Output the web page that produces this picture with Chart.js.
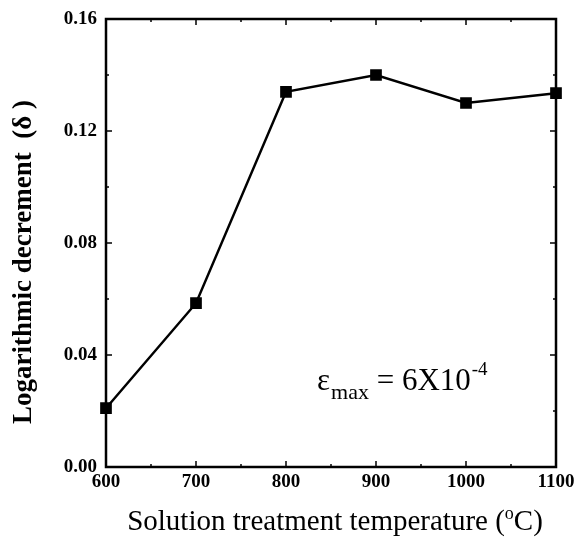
<!DOCTYPE html>
<html><head><meta charset="utf-8">
<script src="https://cdn.jsdelivr.net/npm/chart.js@4/dist/chart.umd.min.js"></script>
<style>html,body{margin:0;padding:0;background:#fff}#wrap{width:576px;height:541px}</style>
</head><body><div id="wrap"><canvas id="c" width="576" height="541"></canvas></div>
<script>
const temperatures = [600, 700, 800, 900, 1000, 1100];
const decrement = [0.021, 0.0585, 0.134, 0.140, 0.130, 0.1335];
const xTicks = [600, 700, 800, 900, 1000, 1100];
const yTicks = [0.00, 0.04, 0.08, 0.12, 0.16];

const serif = '"Liberation Serif", "Times New Roman", serif';

const frame = {
  id: 'frame',
  afterDraw(chart) {
    const {ctx, chartArea: a, scales: {x, y}} = chart;
    ctx.save();
    ctx.strokeStyle = '#000';
    ctx.lineWidth = 2.5;
    ctx.strokeRect(a.left, a.top, a.right - a.left, a.bottom - a.top);
    ctx.lineWidth = 1.5;
    ctx.beginPath();
    for (let v = 600; v <= 1100; v += 50) {
      const px = x.getPixelForValue(v);
      const len = (v % 100 === 0) ? 6 : 3;
      ctx.moveTo(px, a.bottom); ctx.lineTo(px, a.bottom - len);
      ctx.moveTo(px, a.top); ctx.lineTo(px, a.top + len);
    }
    for (let i = 0; i <= 8; i++) {
      const v = i * 0.02;
      const py = y.getPixelForValue(v);
      const len = (i % 2 === 0) ? 6 : 3;
      ctx.moveTo(a.left, py); ctx.lineTo(a.left + len, py);
      ctx.moveTo(a.right, py); ctx.lineTo(a.right - len, py);
    }
    ctx.stroke();

    // axis titles
    ctx.fillStyle = '#000';
    ctx.textAlign = 'center';
    ctx.textBaseline = 'middle';
    ctx.save();
    ctx.translate(24, 262);
    ctx.rotate(-Math.PI / 2);
    ctx.font = 'bold 27px ' + serif;
    ctx.fillText('Logarithmic decrement  (\u03B4 )', 0, 0);
    ctx.restore();

    ctx.textBaseline = 'alphabetic';
    ctx.textAlign = 'left';
    const p1 = 'Solution treatment temperature (';
    const p2 = 'o';
    const p3 = 'C)';
    ctx.font = '29px ' + serif;
    const w1 = ctx.measureText(p1).width;
    const w3 = ctx.measureText(p3).width;
    ctx.font = '18px ' + serif;
    const w2 = ctx.measureText(p2).width;
    const total = w1 + w2 + w3;
    let sx = 335 - total / 2;
    const by = 530;
    ctx.font = '29px ' + serif;
    ctx.fillText(p1, sx, by);
    ctx.font = '18px ' + serif;
    ctx.fillText(p2, sx + w1, by - 11);
    ctx.font = '29px ' + serif;
    ctx.fillText(p3, sx + w1 + w2, by);

    // annotation
    let ax = 317, ay = 390;
    ctx.font = '31px ' + serif;
    ctx.fillText('\u03B5', ax, ay);
    let w = ctx.measureText('\u03B5').width;
    ctx.font = '22px ' + serif;
    ctx.fillText('max', ax + w + 1, ay + 9);
    let wm = ctx.measureText('max').width;
    ctx.font = '31px ' + serif;
    const mid = ' = 6X10';
    ctx.fillText(mid, ax + w + 1 + wm, ay);
    let wmid = ctx.measureText(mid).width;
    ctx.font = '19px ' + serif;
    ctx.fillText('-4', ax + w + 1 + wm + wmid + 1, ay - 15);
    ctx.restore();
  }
};

new Chart(document.getElementById('c'), {
  type: 'line',
  data: {
    datasets: [{
      data: temperatures.map((t, i) => ({x: t, y: decrement[i]})),
      borderColor: '#000',
      backgroundColor: '#000',
      borderWidth: 2.5,
      pointStyle: 'rect',
      pointRadius: 6.5,
      pointHoverRadius: 6.5,
      tension: 0,
      clip: false
    }]
  },
  options: {
    responsive: false,
    animation: false,
    events: [],
    layout: {padding: {left: 0, right: 20, top: 19, bottom: 0}},
    plugins: {legend: {display: false}, tooltip: {enabled: false}},
    scales: {
      x: {
        type: 'linear', min: 600, max: 1100,
        afterBuildTicks: s => { s.ticks = xTicks.map(v => ({value: v})); },
        afterFit: s => { s.height = 74; s.paddingRight = 0; s.paddingLeft = 0; },
        grid: {display: false, drawTicks: false},
        border: {display: false},
        ticks: {color: '#000', padding: 4, maxRotation: 0, font: {family: serif, size: 19, weight: 'bold'}, callback: v => String(v)}
      },
      y: {
        min: 0, max: 0.16,
        afterBuildTicks: s => { s.ticks = yTicks.map(v => ({value: v})); },
        afterFit: s => { s.width = 106; s.paddingTop = 0; s.paddingBottom = 0; },
        grid: {display: false, drawTicks: false},
        border: {display: false},
        ticks: {color: '#000', padding: 9, font: {family: serif, size: 19, weight: 'bold'}, callback: v => v.toFixed(2)}
      }
    }
  },
  plugins: [frame]
});
</script>
</body></html>
